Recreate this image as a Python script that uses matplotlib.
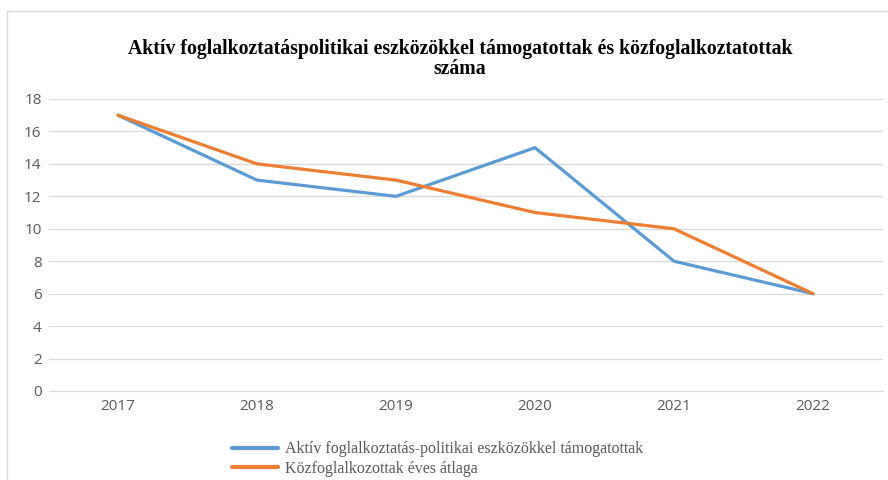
import matplotlib
matplotlib.use("Agg")
import matplotlib.pyplot as plt
from matplotlib.patches import Rectangle

years = ["2017", "2018", "2019", "2020", "2021", "2022"]
aktiv = [17, 13, 12, 15, 8, 6]
kozfogl = [17, 14, 13, 11, 10, 6]
series_labels = ["Aktív foglalkoztatás-politikai eszközökkel támogatottak",
                 "Közfoglalkozottak éves átlaga"]
title = "Aktív foglalkoztatáspolitikai eszközökkel támogatottak és közfoglalkoztatottak\nszáma"
yticks = [0, 2, 4, 6, 8, 10, 12, 14, 16, 18]

W, H = 888, 480
fig = plt.figure(figsize=(W / 100, H / 100), dpi=100)
fig.patch.set_facecolor("white")

# outer chart frame
fig.patches.append(Rectangle((7 / W, -0.1), 1.2, (H - 11) / H + 0.1, transform=fig.transFigure,
                             fill=False, edgecolor="#D9D9D9", linewidth=1.0))

ax = fig.add_axes([48.5 / W, 1 - 391 / H, (882.5 - 48.5) / W, (391 - 99) / H])
x = list(range(len(years)))
l1, = ax.plot(x, aktiv, color="#5B9BD5", linewidth=2.3, solid_capstyle="round", zorder=3)
l2, = ax.plot(x, kozfogl, color="#ED7D31", linewidth=2.3, solid_capstyle="round", zorder=4)

ax.set_xlim(-0.5, len(years) - 0.5)
ax.set_ylim(0, 18)
ax.set_yticks(yticks)
ax.set_xticks(x)
ax.set_xticklabels(years)
ax.grid(axis="y", color="#D9D9D9", linewidth=0.9)
ax.set_axisbelow(True)
for s in ["top", "right", "left"]:
    ax.spines[s].set_visible(False)
ax.spines["bottom"].set_color("#D9D9D9")
ax.tick_params(axis="both", length=0, labelsize=11, labelcolor="#595959")
ax.tick_params(axis="y", pad=5)
ax.tick_params(axis="x", pad=6)
for lab in ax.get_xticklabels() + ax.get_yticklabels():
    lab.set_family(["Open Sans", "DejaVu Sans"])

fig.text(460 / W, 1 - 59 / H, title, ha="center", va="center", fontsize=14.2,
         fontweight="bold", family=["Liberation Serif", "DejaVu Serif"], linespacing=1.05,
         color="black")

leg = fig.legend([l1, l2], series_labels, loc="upper left",
                 bbox_to_anchor=(226 / W, 1 - 435 / H), frameon=False,
                 prop={"family": ["Liberation Serif", "DejaVu Serif"], "size": 11.55},
                 handlelength=2.85, handletextpad=0.45, labelspacing=0.2, borderaxespad=0)
for t in leg.get_texts():
    t.set_color("#595959")
for h in leg.get_lines():
    h.set_linewidth(3.0)

fig.savefig("out.png", dpi=100, facecolor="white")
